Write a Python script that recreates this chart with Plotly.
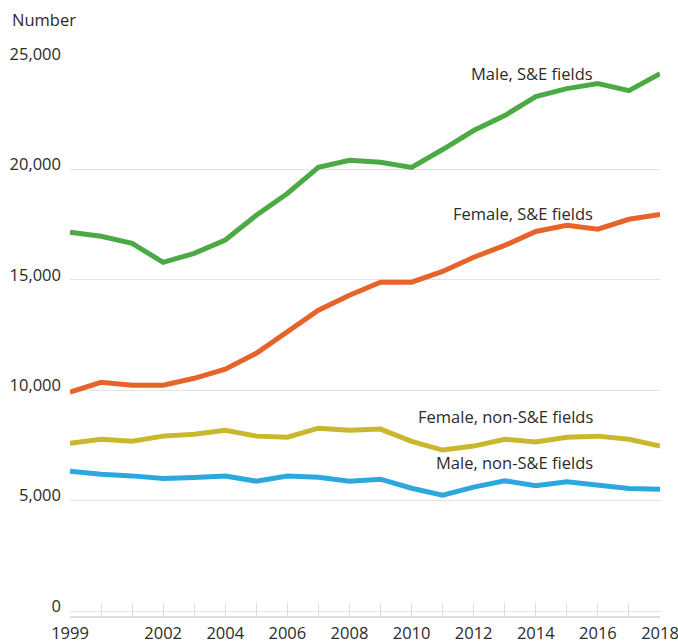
import plotly.graph_objects as go

years = list(range(1999, 2019))
male_se = [17150, 16970, 16650, 15790, 16200, 16800, 17920, 18910, 20090, 20410,
           20320, 20090, 20900, 21760, 22440, 23300, 23660, 23890, 23570, 24340]
female_se = [9910, 10360, 10230, 10230, 10540, 10950, 11670, 12670, 13620, 14300,
             14890, 14890, 15380, 16020, 16560, 17190, 17470, 17290, 17740, 17960]
female_non = [7600, 7780, 7690, 7920, 8010, 8190, 7920, 7870, 8280, 8190,
              8240, 7680, 7290, 7470, 7780, 7650, 7870, 7920, 7780, 7470]
male_non = [6330, 6190, 6120, 6000, 6050, 6110, 5880, 6110, 6060, 5880,
            5970, 5560, 5250, 5610, 5900, 5670, 5850, 5700, 5550, 5520]

series_names = ["Male, S&E fields", "Female, S&E fields", "Female, non-S&E fields", "Male, non-S&E fields"]
series_vals = [male_se, female_se, female_non, male_non]
colors = ["#4caa45", "#e6632a", "#c9b82e", "#2da8df"]
label_y = [24357, 18023, 8792, 6710]

x_tick_vals = years
x_tick_text = [str(y) if y in (1999, 2002, 2004, 2006, 2008, 2010, 2012, 2014, 2016, 2018) else "" for y in years]
y_tick_vals = [0, 5000, 10000, 15000, 20000, 25000]
y_tick_text = ["0", "5,000", "10,000", "15,000", "20,000", "25,000"]

FONT = "Open Sans"
TXT = "#2b2b2b"
FS = 16.5

fig = go.Figure()
for name, vals, col in zip(series_names, series_vals, colors):
    fig.add_trace(go.Scatter(x=years, y=vals, mode="lines", name=name,
                             line=dict(color=col, width=5, shape="linear"),
                             showlegend=False, hoverinfo="skip"))

for name, ly in zip(series_names, label_y):
    fig.add_annotation(x=2015.92, y=ly, xref="x", yref="y", text=name,
                       showarrow=False, xanchor="right", yanchor="middle",
                       font=dict(family=FONT, size=FS, color=TXT))

fig.add_annotation(x=-0.102, y=1.071, xref="paper", yref="paper", text="Number",
                   showarrow=False, xanchor="left", yanchor="middle",
                   font=dict(family=FONT, size=FS, color=TXT))

fig.update_layout(
    width=678, height=643,
    margin=dict(l=70, r=18, t=58.5, b=27, pad=0, autoexpand=False),
    paper_bgcolor="white", plot_bgcolor="white",
    font=dict(family=FONT, size=FS, color=TXT),
    xaxis=dict(range=[1999, 2018], tickmode="array", tickvals=x_tick_vals,
               ticktext=x_tick_text, ticks="inside", ticklen=13, tickwidth=1,
               tickcolor="#dcdcdc", showgrid=False, zeroline=False,
               showline=True, linecolor="#dcdcdc", linewidth=2, automargin=False,
               ticklabelstandoff=1, ticklabeloverflow="allow",
               tickfont=dict(family=FONT, size=FS, color=TXT)),
    yaxis=dict(range=[-226, 25000], tickmode="array", tickvals=y_tick_vals,
               ticktext=y_tick_text, ticks="", showgrid=True, gridcolor="#e3e3e3",
               gridwidth=1, zeroline=False, showline=False, automargin=False,
               ticklabelstandoff=8, ticklabelshift=-5,
               tickfont=dict(family=FONT, size=FS, color=TXT)),
)

fig.write_html("out.html", config={"displayModeBar": False},
               post_script="document.body.style.margin='0';")
